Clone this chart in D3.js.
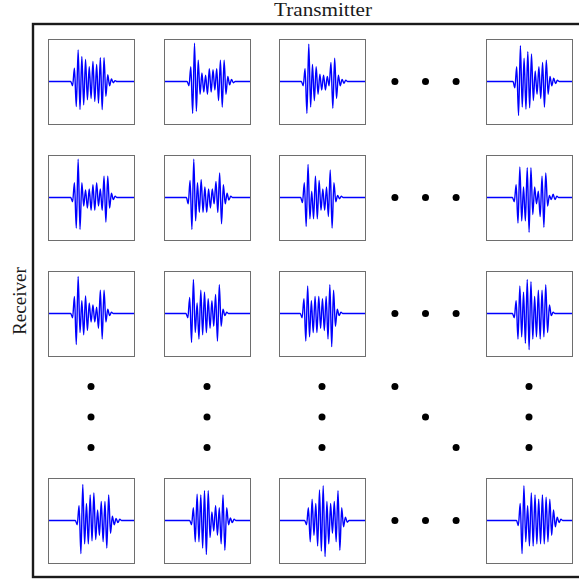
<!DOCTYPE html>
<html>
<head>
<meta charset="utf-8">
<script src="https://cdn.jsdelivr.net/npm/d3@7"></script>
<style>
  body { margin: 0; background: #fff; }
  svg { display: block; }
</style>
</head>
<body>
<div id="chart"></div>
<script>
// Receiver / transmitter labels for the grid slots shown
var receivers = ['1', '2', '3', 'N'];
var transmitters = ['1', '2', '3', 'N'];

// Arrival sample of each trace (row = receiver, col = transmitter)
var onsets = [
    [13.3, 13.5, 13.1, 15.6],
    [13.3, 13.1, 12.7, 15.3],
    [13.3, 12.9, 12.5, 15.3],
    [15.8, 14.9, 14.9, 17.5]
];

// Extrema of each waveform, one value per half cycle
var rx1tx1 = [-0.1, 0.31, -0.59, 0.74, -0.66, 0.59, -0.55, 0.52, -0.43, 0.35, -0.4, 0.47, -0.47, 0.4, -0.51, 0.56, -0.66, 0.56, -0.35, 0.16, -0.1, 0.06, -0.03, 0.02];
var rx1tx2 = [-0.1, 0.35, -0.75, 0.9, -0.7, 0.5, -0.3, 0.2, -0.25, 0.15, -0.3, 0.3, -0.25, 0.28, -0.2, 0.3, -0.45, 0.5, -0.6, 0.5, -0.3, 0.12, -0.08, 0.05, -0.03];
var rx1tx3 = [-0.1, 0.3, -0.75, 0.88, -0.6, 0.4, -0.45, 0.35, -0.3, 0.17, -0.2, 0.15, -0.2, 0.12, -0.1, 0.45, -0.63, 0.55, -0.4, 0.15, -0.1, 0.05, -0.04, 0.03];
var rx1tx4 = [-0.15, 0.35, -0.8, 0.84, -0.6, 0.55, -0.65, 0.7, -0.62, 0.65, -0.45, 0.25, -0.3, 0.35, -0.4, 0.45, -0.6, 0.5, -0.3, 0.12, -0.1, 0.08, -0.05, 0.03];
var rx2tx1 = [-0.1, 0.35, -0.72, 0.9, -0.75, 0.35, -0.2, 0.18, -0.25, 0.2, -0.3, 0.3, -0.3, 0.35, -0.2, 0.2, -0.3, 0.5, -0.58, 0.5, -0.25, 0.1, -0.05, 0.03];
var rx2tx2 = [-0.15, 0.4, -0.75, 0.9, -0.55, 0.35, -0.35, 0.42, -0.35, 0.25, -0.35, 0.2, -0.25, 0.2, -0.15, 0.38, -0.35, 0.58, -0.62, 0.3, -0.15, 0.1, -0.06, 0.03];
var rx2tx3 = [-0.12, 0.35, -0.68, 0.78, -0.5, 0.15, -0.5, 0.5, -0.5, 0.4, -0.3, 0.2, -0.3, 0.25, -0.45, 0.65, -0.72, 0.35, -0.1, 0.05, -0.03, 0.03];
var rx2tx4 = [-0.1, 0.3, -0.6, 0.72, -0.55, 0.25, -0.55, 0.7, -0.82, 0.7, -0.4, 0.25, -0.15, 0.15, -0.45, 0.5, -0.7, 0.58, -0.2, 0.05, -0.05, 0.08, -0.05, 0.03];
var rx3tx1 = [-0.1, 0.4, -0.73, 0.87, -0.45, 0.3, -0.5, 0.41, -0.4, 0.25, -0.2, 0.2, -0.2, 0.15, -0.35, 0.55, -0.6, 0.55, -0.2, 0.1, -0.05, 0.03];
var rx3tx2 = [-0.1, 0.38, -0.68, 0.8, -0.45, 0.25, -0.6, 0.55, -0.5, 0.5, -0.45, 0.35, -0.35, 0.3, -0.3, 0.45, -0.65, 0.68, -0.3, 0.1, -0.05, 0.03];
var rx3tx3 = [-0.1, 0.35, -0.65, 0.65, -0.55, 0.3, -0.45, 0.4, -0.45, 0.4, -0.35, 0.35, -0.4, 0.4, -0.6, 0.68, -0.78, 0.55, -0.3, 0.1, -0.05, 0.03];
var rx3tx4 = [-0.1, 0.3, -0.6, 0.65, -0.55, 0.5, -0.7, 0.8, -0.85, 0.75, -0.6, 0.4, -0.55, 0.55, -0.6, 0.55, -0.55, 0.68, -0.45, 0.2, -0.05, 0.03];
var rxNtx1 = [-0.1, 0.35, -0.78, 0.85, -0.55, 0.4, -0.55, 0.6, -0.48, 0.65, -0.45, 0.25, -0.35, 0.45, -0.5, 0.45, -0.65, 0.6, -0.3, 0.1, -0.1, 0.05, -0.05, 0.03];
var rxNtx2 = [-0.1, 0.3, -0.5, 0.62, -0.5, 0.6, -0.65, 0.7, -0.8, 0.7, -0.4, 0.2, -0.25, 0.35, -0.35, 0.3, -0.55, 0.6, -0.7, 0.3, -0.1, 0.06, -0.05, 0.03];
var rxNtx3 = [-0.1, 0.3, -0.5, 0.5, -0.35, 0.4, -0.6, 0.72, -0.72, 0.82, -0.85, 0.45, -0.55, 0.4, -0.3, 0.45, -0.5, 0.7, -0.7, 0.3, -0.15, 0.08, -0.04];
var rxNtx4 = [-0.12, 0.4, -0.78, 0.82, -0.5, 0.35, -0.6, 0.65, -0.6, 0.6, -0.55, 0.5, -0.55, 0.6, -0.55, 0.55, -0.5, 0.5, -0.35, 0.25, -0.15, 0.08, -0.05, 0.03];

var traces = [
    [rx1tx1, rx1tx2, rx1tx3, rx1tx4],
    [rx2tx1, rx2tx2, rx2tx3, rx2tx4],
    [rx3tx1, rx3tx2, rx3tx3, rx3tx4],
    [rxNtx1, rxNtx2, rxNtx3, rxNtx4]
];

var samples = 46.5;   // samples across one panel

var width = 579;
var height = 580;

// panel layout
var colLeft = [48, 164, 279, 486];
var rowTop = [39, 155, 271, 478];
var panelW = 86;
var panelH = 85;

var svg = d3.select('#chart').append('svg')
    .attr('width', width)
    .attr('height', height);

// outer frame
svg.append('rect')
    .attr('x', 33)
    .attr('y', 24)
    .attr('width', 570)
    .attr('height', 553)
    .attr('fill', 'none')
    .attr('stroke', '#1a1a1a')
    .attr('stroke-width', 2.4);

svg.append('text')
    .attr('x', 323)
    .attr('y', 16)
    .attr('text-anchor', 'middle')
    .attr('textLength', 98)
    .attr('lengthAdjust', 'spacingAndGlyphs')
    .style('font-family', '"Liberation Serif", serif')
    .style('font-size', '18.5px')
    .style('fill', '#1a1a1a')
    .text('Transmitter');

svg.append('text')
    .attr('transform', 'translate(26,301) rotate(-90)')
    .attr('text-anchor', 'middle')
    .attr('textLength', 68)
    .attr('lengthAdjust', 'spacingAndGlyphs')
    .style('font-family', '"Liberation Serif", serif')
    .style('font-size', '18.5px')
    .style('fill', '#1a1a1a')
    .text('Receiver');

var x = d3.scaleLinear().domain([0, samples]).range([0, panelW]);
var y = d3.scaleLinear().domain([-1, 1]).range([panelH, 0]);

var line = d3.line()
    .x(function (d) { return x(d[0]); })
    .y(function (d) { return y(d[1]); })
    .curve(d3.curveMonotoneX);

receivers.forEach(function (rx, i) {
    transmitters.forEach(function (tx, j) {
        var vals = traces[i][j];
        var t0 = onsets[i][j];
        var pts = [[0, 0], [t0 - 1, 0]];
        vals.forEach(function (v, k) { pts.push([t0 + k, v]); });
        pts.push([t0 + vals.length, 0], [samples, 0]);

        var g = svg.append('g')
            .attr('class', 'panel rx' + rx + ' tx' + tx)
            .attr('transform', 'translate(' + colLeft[j] + ',' + rowTop[i] + ')');

        g.append('path')
            .datum(pts)
            .attr('d', line)
            .attr('fill', 'none')
            .attr('stroke', '#0000ff')
            .attr('stroke-width', 1.4)
            .attr('stroke-linejoin', 'round');

        g.append('rect')
            .attr('x', 0.5)
            .attr('y', 0.5)
            .attr('width', panelW)
            .attr('height', panelH)
            .attr('fill', 'none')
            .attr('stroke', '#6e6e6e')
            .attr('stroke-width', 1);
    });
});

// ellipsis dots: between column 3 and N, and between row 3 and N
var dotGap = 30.6;
var midX = (colLeft[2] + colLeft[3] + panelW) / 2;
var midY = (rowTop[2] + rowTop[3] + panelH) / 2;
var dots = [];
[-1, 0, 1].forEach(function (k) {
    rowTop.forEach(function (t) { dots.push([midX + k * dotGap, t + panelH / 2]); });
    colLeft.forEach(function (l) { dots.push([l + panelW / 2, midY + k * dotGap]); });
    dots.push([midX + k * dotGap, midY + k * dotGap]);
});

svg.selectAll('circle.dot')
    .data(dots)
    .enter()
    .append('circle')
    .attr('class', 'dot')
    .attr('cx', function (d) { return d[0]; })
    .attr('cy', function (d) { return d[1]; })
    .attr('r', 3.5)
    .attr('fill', '#000');
</script>
</body>
</html>
